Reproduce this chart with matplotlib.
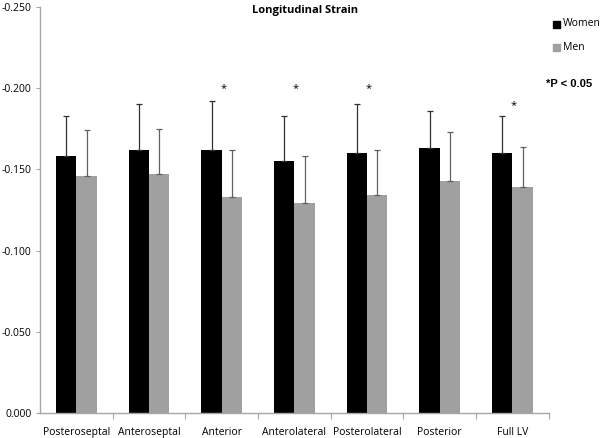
import matplotlib
matplotlib.use("Agg")
import matplotlib.pyplot as plt
import numpy as np

categories = ["Posteroseptal", "Anteroseptal", "Anterior", "Anterolateral",
              "Posterolateral", "Posterior", "Full LV"]
women = [-0.158, -0.162, -0.162, -0.155, -0.160, -0.163, -0.160]
women_sd = [0.025, 0.028, 0.030, 0.028, 0.030, 0.023, 0.023]
men = [-0.146, -0.147, -0.133, -0.129, -0.134, -0.143, -0.139]
men_sd = [0.028, 0.028, 0.029, 0.029, 0.028, 0.030, 0.025]
sig_idx = [2, 3, 4, 6]
sig_y = [-0.1995, -0.1995, -0.1995, -0.189]
yticks = [0.0, -0.05, -0.10, -0.15, -0.20, -0.25]

plt.rcParams['font.family'] = ['Open Sans', 'DejaVu Sans']

fig = plt.figure(figsize=(6, 4.38), dpi=100)
ax = fig.add_axes([0.0667, 0.0571, 0.848, 0.927])

x = np.arange(len(categories))
w = 0.28
ax.bar(x - w/2, women, width=w, color='black', zorder=2)
ax.bar(x + w/2, men, width=w, color='#a0a0a0', zorder=2)
ax.errorbar(x - w/2, women, yerr=[women_sd, [0]*len(women)], fmt='none',
            ecolor='#303030', elinewidth=0.9, capsize=2.5, capthick=0.9, zorder=3)
ax.errorbar(x + w/2, men, yerr=[men_sd, [0]*len(men)], fmt='none',
            ecolor='#606060', elinewidth=0.9, capsize=2.5, capthick=0.9, zorder=3)

for i, yv in zip(sig_idx, sig_y):
    ax.text(x[i] + 0.02, yv, '*', ha='center', va='center', fontsize=8, color='black')

ax.set_xlim(-0.5, len(categories) - 0.5)
ax.set_ylim(0, -0.25)
ax.set_yticks(yticks)
ax.set_yticklabels([f"{v:.3f}" for v in yticks], fontsize=7.5)
ax.set_xticks(x)
ax.set_xticklabels(categories, fontsize=7.5)
ax.set_xticks(np.arange(0.5, len(categories), 1.0), minor=True)
ax.tick_params(axis='x', which='major', length=0, pad=10)
ax.tick_params(axis='x', which='minor', length=4, color='#a6a6a6', width=0.8)
ax.tick_params(axis='y', length=3, color='#a6a6a6', width=0.8, pad=3)

for s in ['top', 'right']:
    ax.spines[s].set_visible(False)
for s in ['left', 'bottom']:
    ax.spines[s].set_color('#a6a6a6')
    ax.spines[s].set_linewidth(1.0)

fig.text(0.508, 0.977, "Longitudinal Strain", ha='center', va='center',
         fontsize=8, fontweight='bold')

# legend
fig.patches.append(matplotlib.patches.Rectangle((553/600, 1 - 28/438), 7/600, 7/438,
                   transform=fig.transFigure, color='black'))
fig.text(563/600, 1 - 24/438, "Women", ha='left', va='center', fontsize=7.5)
fig.patches.append(matplotlib.patches.Rectangle((553/600, 1 - 51/438), 7/600, 7/438,
                   transform=fig.transFigure, color='#a0a0a0'))
fig.text(563/600, 1 - 47/438, "Men", ha='left', va='center', fontsize=7.5)
fig.text(546/600, 1 - 84/438, "*P < 0.05", ha='left', va='center', fontsize=8,
         fontweight='bold', family=['Liberation Sans', 'DejaVu Sans'])

fig.savefig("out.png", dpi=100)
